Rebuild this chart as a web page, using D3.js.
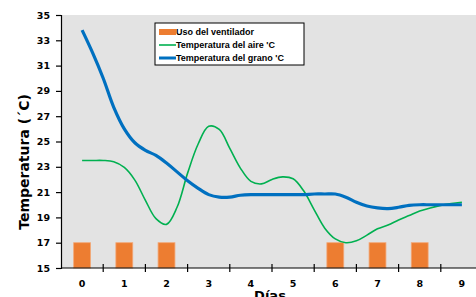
<!DOCTYPE html>
<html>
<head>
<meta charset="utf-8">
<script src="https://cdn.jsdelivr.net/npm/d3@7"></script>
<style>
  body { margin: 0; background: #fff; }
  svg { display: block; }
  text { font-family: "Liberation Sans", Arial, sans-serif; font-weight: bold; }
</style>
</head>
<body>
<script>
// chart data
const days = [0, 1, 2, 3, 4, 5, 6, 7, 8, 9];
const fanUse = [17, 17, 17, null, null, null, 17, 17, 17, null];   // uso del ventilador
// readings every quarter day
const times = [0, 0.25, 0.5, 0.75, 1, 1.25, 1.5, 1.75, 2, 2.25, 2.5, 2.75, 3, 3.25, 3.5, 3.75,
  4, 4.25, 4.5, 4.75, 5, 5.25, 5.5, 5.75, 6, 6.25, 6.5, 6.75, 7, 7.25, 7.5, 7.75, 8, 8.25, 8.5, 8.75, 9];
const airTemp = [23.5, 23.5, 23.5, 23.4, 22.95, 21.95, 20.35, 18.9, 18.45, 19.8, 22.5, 24.8, 26.2, 25.95, 24.45, 22.9,
  21.85, 21.65, 22.0, 22.2, 22.05, 21.1, 19.6, 18.15, 17.3, 17.0, 17.15, 17.6, 18.1, 18.4, 18.8, 19.15, 19.5, 19.75, 19.95, 20.1, 20.2];
const grainTemp = [33.8, 32.0, 30.0, 27.7, 26.0, 24.9, 24.3, 23.9, 23.3, 22.6, 21.9, 21.3, 20.8, 20.6, 20.6, 20.75,
  20.8, 20.8, 20.8, 20.8, 20.8, 20.8, 20.85, 20.85, 20.85, 20.6, 20.2, 19.9, 19.75, 19.7, 19.8, 19.95, 20.0, 20.0, 20.0, 20.0, 20.0];
const yTicks = [15, 17, 19, 21, 23, 25, 27, 29, 31, 33, 35];
const legendLabels = ["Uso del ventilador", "Temperatura del aire 'C", "Temperatura del grano 'C"];

const W = 476, H = 297;
const pLeft = 61, pRight = 483, pTop = 15, pBottom = 268;

const svg = d3.select("body").append("svg").attr("width", W).attr("height", H);

const x = d3.scaleBand().domain(days).range([pLeft, pRight]).padding(0);
const xLin = d3.scaleLinear().domain([-0.5, 9.5]).range([pLeft, pRight]);
const y = d3.scaleLinear().domain([15, 35]).range([pBottom, pTop]);

// plot area
svg.append("rect").attr("x", pLeft).attr("y", pTop).attr("width", pRight - pLeft).attr("height", pBottom - pTop)
  .attr("fill", "#e3e3e3");

// bars
const bw = x.bandwidth() * 0.4;
svg.selectAll("rect.bar")
  .data(days.filter((d, i) => fanUse[i] != null))
  .enter().append("rect").attr("class", "bar")
  .attr("x", d => x(d) + x.bandwidth() / 2 - bw / 2)
  .attr("y", d => y(fanUse[d]))
  .attr("width", bw)
  .attr("height", d => y(15) - y(fanUse[d]))
  .attr("fill", "#ed7d31")
  .attr("stroke", "#f2a878").attr("stroke-width", 0.8);

// lines
const line = (vals) => d3.line()
  .x((d, i) => xLin(times[i]))
  .y(d => y(d))
  .curve(d3.curveCatmullRom.alpha(0.5))(vals);

svg.append("path").attr("d", line(airTemp)).attr("fill", "none")
  .attr("stroke", "#00b050").attr("stroke-width", 1.6);
svg.append("path").attr("d", line(grainTemp)).attr("fill", "none")
  .attr("stroke", "#0070c0").attr("stroke-width", 3.2);

// y axis
const yAxis = svg.append("g").attr("transform", `translate(${pLeft},0)`)
  .call(d3.axisLeft(y).tickValues(yTicks).tickSize(5).tickPadding(6));
yAxis.select(".domain").attr("stroke", "#000").attr("stroke-width", 1.2);
yAxis.selectAll(".tick line").attr("stroke", "#000").attr("stroke-width", 1.2);
yAxis.selectAll("text").attr("fill", "#000")
  .style("font-family", "'DejaVu Sans', sans-serif").attr("font-size", 9.5);

// x axis
svg.append("line").attr("x1", pLeft).attr("x2", pRight).attr("y1", pBottom).attr("y2", pBottom)
  .attr("stroke", "#000").attr("stroke-width", 1.2);
svg.selectAll("line.xt")
  .data(days.slice(1))
  .enter().append("line").attr("class", "xt")
  .attr("x1", d => x(d)).attr("x2", d => x(d))
  .attr("y1", pBottom - 4).attr("y2", pBottom + 4)
  .attr("stroke", "#000").attr("stroke-width", 1.2);
svg.selectAll("text.xl")
  .data(days)
  .enter().append("text").attr("class", "xl")
  .attr("x", d => x(d) + x.bandwidth() / 2)
  .attr("y", 287)
  .attr("text-anchor", "middle")
  .style("font-family", "'DejaVu Sans', sans-serif")
  .attr("font-size", 9.5)
  .text(d => d);

// titles
svg.append("text").attr("x", 270).attr("y", 300).attr("text-anchor", "middle")
  .style("font-family", "'DejaVu Sans', sans-serif").attr("font-size", 13).text("Días");
svg.append("text").attr("transform", "translate(29,162) rotate(-90)").attr("text-anchor", "middle")
  .style("font-family", "'DejaVu Sans', sans-serif").attr("font-size", 14).text("Temperatura (´C)");

// legend
const lg = svg.append("g").attr("transform", "translate(155,23)");
lg.append("rect").attr("width", 149).attr("height", 42).attr("fill", "#fff")
  .attr("stroke", "#000").attr("stroke-width", 1);
const colors = ["#ed7d31", "#00b050", "#0070c0"];
legendLabels.forEach((t, i) => {
  const yy = 9 + i * 13;
  if (i === 0) {
    lg.append("rect").attr("x", 4).attr("y", yy - 3).attr("width", 17).attr("height", 6).attr("fill", colors[i]);
  } else {
    lg.append("line").attr("x1", 4).attr("x2", 21).attr("y1", yy).attr("y2", yy)
      .attr("stroke", colors[i]).attr("stroke-width", i === 1 ? 1.6 : 3);
  }
  lg.append("text").attr("x", 21).attr("y", yy + 3.2).attr("font-size", 9).text(t);
});
</script>
</body>
</html>
